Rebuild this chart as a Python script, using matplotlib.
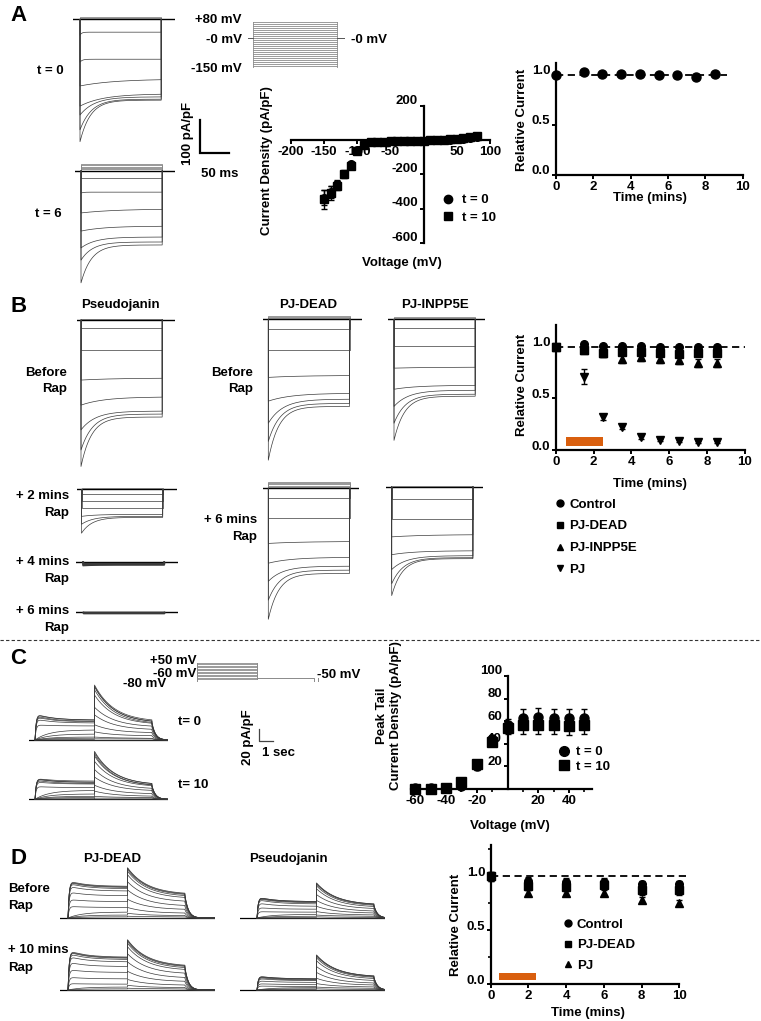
import numpy as np
import matplotlib
matplotlib.use("Agg")
import matplotlib.pyplot as plt
from matplotlib.lines import Line2D
from matplotlib.ticker import MultipleLocator, FixedLocator, FormatStrFormatter
from matplotlib.transforms import ScaledTranslation

plt.rcParams['font.family'] = ['Liberation Sans', 'DejaVu Sans']
plt.rcParams['font.weight'] = 'bold'
plt.rcParams['axes.labelweight'] = 'bold'
plt.rcParams['font.size'] = 9.5
plt.rcParams['axes.unicode_minus'] = False

# ======================= DATA =======================
# ---- Panel A: IV relation ----
A_iv_volt = [-150, -140, -130, -120, -110, -100, -90, -80, -70, -60, -50, -40,
             -30, -20, -10, 0, 10, 20, 30, 40, 50, 60, 70, 80]
A_iv_t0 = [-335, -300, -255, -200, -140, -57, -29, -12, -9, -8, -7, -6,
           -5, -4, -3, -2, -1, 0, 2, 4, 7, 10, 13, 17]
A_iv_t0_err = [45, 35, 25, 20, 15, 10, 5, 3, 2, 2, 2, 2, 2, 2, 2, 2, 2, 2, 2, 2, 3, 3, 3, 4]
A_iv_t10 = [-345, -310, -265, -195, -150, -65, -25, -10, -9, -8, -7, -6,
            -5, -4, -3, -2, 0, 1, 3, 6, 9, 13, 17, 22]
A_iv_t10_err = [55, 40, 28, 22, 18, 10, 5, 3, 2, 2, 2, 2, 2, 2, 2, 2, 2, 2, 2, 3, 3, 3, 4, 4]
# ---- Panel A: relative current ----
A_rel_time = [0, 1.5, 2.5, 3.5, 4.5, 5.5, 6.5, 7.5, 8.5]
A_rel = [1.0, 1.03, 1.01, 1.01, 1.01, 1.0, 1.0, 0.98, 1.01]

# ---- Panel A/B: Kir current sweeps (pA/pF; peak, end-of-pulse) ----
KIR_PULSE_MS = 140
KIR_TAU_MS = [3, 4, 60, 40, 25, 20, 18]
A_t0_peak = [48, 130, 202, 263, 290, 335, 371]
A_t0_end = [39, 121, 181, 226, 235, 242, 245]
A_t0_pos = [2, 4, 6]
A_t6_peak = [22, 68, 128, 183, 234, 271, 340]
A_t6_end = [22, 65, 116, 168, 201, 216, 225]
A_t6_pos = [4, 8, 12, 16, 20]
B_pj_before_peak = [24, 91, 182, 258, 333, 394, 444]
B_pj_before_end = [24, 91, 176, 233, 276, 285, 294]
B_pj_2_peak = [15, 36, 58, 82, 106, 133]
B_pj_2_end = [15, 36, 58, 76, 82, 85]
B_pj_4_peak = [3, 6, 9, 12]
B_pj_4_end = [3, 6, 8, 10]
B_pj_6_peak = [1, 2, 3, 4]
B_pj_6_end = [1, 2, 3, 4]
B_dead_before_peak = [29, 94, 176, 248, 315, 370, 427]
B_dead_before_end = [29, 94, 170, 224, 242, 255, 264]
B_dead_before_pos = [3, 6, 9]
B_dead_6_peak = [30, 91, 167, 227, 282, 339, 397]
B_dead_6_end = [30, 91, 161, 209, 236, 248, 258]
B_dead_6_pos = [4, 8, 12, 16, 20]
B_inp_before_peak = [27, 82, 148, 212, 264, 315, 367]
B_inp_before_end = [27, 82, 145, 200, 215, 227, 233]
B_inp_before_pos = [3, 6]
B_inp_6_peak = [36, 97, 152, 206, 251, 294, 330]
B_inp_6_end = [36, 97, 145, 194, 209, 215, 218]
B_inp_6_pos = [3]

# ---- Panel B: relative current ----
B_time = [0, 1.5, 2.5, 3.5, 4.5, 5.5, 6.5, 7.5, 8.5]
B_control = [1.0, 1.03, 1.01, 1.01, 1.01, 1.0, 1.0, 1.0, 1.0]
B_control_err = [0.01, 0.02, 0.02, 0.02, 0.02, 0.02, 0.02, 0.02, 0.02]
B_dead = [1.0, 0.97, 0.935, 0.95, 0.95, 0.94, 0.93, 0.94, 0.94]
B_dead_err = [0.01, 0.03, 0.03, 0.03, 0.03, 0.03, 0.03, 0.03, 0.03]
B_inpp5e = [1.0, 0.97, 0.94, 0.88, 0.90, 0.88, 0.87, 0.84, 0.84]
B_inpp5e_err = [0.01, 0.03, 0.03, 0.04, 0.04, 0.04, 0.04, 0.04, 0.04]
B_pj = [1.0, 0.71, 0.32, 0.225, 0.13, 0.10, 0.09, 0.08, 0.08]
B_pj_err = [0.01, 0.07, 0.03, 0.02, 0.02, 0.01, 0.01, 0.01, 0.01]
RAP_START, RAP_END = 0.55, 2.5

# ---- Panel C: KCNQ sweeps (pA/pF) ----
KCNQ_STEP_S = 4.25
KCNQ_TAIL_S = 4.1
C_t0_step_peak = [0, 1, 3, 5, 10, 17, 26, 36, 40, 42, 44, 45]
C_t0_step_end = [0, 1, 3, 5, 10, 17, 24, 29, 31, 32, 34, 34]
C_t0_tail_peak = [0, 2, 5, 14, 26, 43, 56, 77, 86, 91, 92, 94]
C_t0_tail_end = [0, 2, 3, 7, 12, 17, 22, 26, 27, 29, 29, 31]
C_t10_step_peak = [0, 1, 3, 5, 9, 15, 22, 30, 33, 35, 36, 36]
C_t10_step_end = [0, 1, 3, 5, 9, 15, 20, 26, 27, 29, 29, 31]
C_t10_tail_peak = [0, 2, 5, 14, 24, 38, 51, 65, 74, 77, 80, 82]
C_t10_tail_end = [0, 2, 3, 5, 9, 14, 17, 21, 22, 22, 24, 24]

# ---- Panel C: tail IV ----
C_iv_volt = [-60, -50, -40, -30, -20, -10, 0, 10, 20, 30, 40, 50]
C_iv_t0 = [0.5, 0.5, 1, 3, 20, 44, 57, 63, 64, 63, 63, 63]
C_iv_t0_err = [1, 1, 1, 1, 3, 4, 5, 8, 8, 8, 8, 8]
C_iv_t10 = [0, 0, 0.5, 6, 22, 42, 54, 57, 57, 57, 56, 57]
C_iv_t10_err = [1, 1, 1, 1, 3, 4, 5, 8, 8, 8, 8, 8]

# ---- Panel D: KCNQ sweeps ----
D_dead_before_step_peak = [0, 2, 5, 10, 20, 32, 45, 55, 60, 62, 63, 64]
D_dead_before_step_end = [0, 2, 5, 10, 18, 28, 38, 46, 50, 52, 53, 54]
D_dead_before_tail_peak = [0, 3, 8, 18, 32, 48, 62, 74, 80, 83, 85, 86]
D_dead_before_tail_end = [0, 2, 4, 8, 14, 20, 27, 33, 36, 38, 39, 40]
D_pj_before_step_peak = [0, 1, 3, 6, 11, 18, 26, 32, 34, 35, 36, 36]
D_pj_before_step_end = [0, 1, 3, 6, 10, 15, 20, 24, 26, 27, 28, 28]
D_pj_before_tail_peak = [0, 2, 5, 11, 20, 30, 40, 50, 55, 58, 59, 60]
D_pj_before_tail_end = [0, 1, 3, 5, 8, 11, 15, 18, 20, 21, 22, 22]
D_dead_10_step_peak = [0, 2, 5, 11, 22, 35, 48, 58, 63, 66, 67, 68]
D_dead_10_step_end = [0, 2, 5, 10, 19, 30, 40, 48, 52, 54, 55, 56]
D_dead_10_tail_peak = [0, 3, 8, 18, 32, 48, 62, 74, 80, 83, 85, 86]
D_dead_10_tail_end = [0, 2, 4, 8, 14, 20, 27, 33, 36, 38, 39, 40]
D_pj_10_step_peak = [0, 1, 2, 4, 7, 11, 16, 20, 22, 23, 24, 24]
D_pj_10_step_end = [0, 1, 2, 4, 6, 9, 13, 16, 17, 18, 19, 19]
D_pj_10_tail_peak = [0, 2, 5, 11, 20, 30, 40, 50, 55, 58, 59, 60]
D_pj_10_tail_end = [0, 1, 3, 5, 8, 11, 15, 18, 20, 21, 22, 22]

# ---- Panel D: relative current ----
D_time = [0, 2, 4, 6, 8, 10]
D_control = [1.0, 0.96, 0.95, 0.95, 0.93, 0.93]
D_control_err = [0.03, 0.03, 0.03, 0.03, 0.03, 0.03]
D_dead = [1.0, 0.91, 0.90, 0.92, 0.87, 0.87]
D_dead_err = [0.04, 0.04, 0.04, 0.04, 0.04, 0.04]
D_pj = [1.0, 0.845, 0.845, 0.845, 0.78, 0.75]
D_pj_err = [0.04, 0.03, 0.03, 0.03, 0.03, 0.03]
D_RAP_START, D_RAP_END = 0.45, 2.4

# protocols
A_protocol_volt = list(range(-150, 81, 10))
C_protocol_volt = list(range(-60, 51, 10))

# ======================= FIGURE =======================
W, H = 761, 1021
fig = plt.figure(figsize=(W / 100, H / 100), dpi=100)

def add_ax(x0, y0, x1, y1):
    ax = fig.add_axes([x0 / W, 1 - y1 / H, (x1 - x0) / W, (y1 - y0) / H])
    ax.patch.set_visible(False)
    return ax

def style_ax(ax, lw=1.6):
    for s in ['top', 'right']:
        ax.spines[s].set_visible(False)
    for s in ['left', 'bottom']:
        ax.spines[s].set_linewidth(lw)
    ax.tick_params(width=1.4, length=3, labelsize=9.5, pad=1.0)
    ax.tick_params(which='minor', width=1.2, length=2.5)

def shift_ylabels(ax, px=5):
    off = ScaledTranslation(0, px / 100, fig.dpi_scale_trans)
    for lab in ax.get_yticklabels():
        lab.set_transform(lab.get_transform() + off)

def legend_at(ax, handles, labels, x, y, **kw):
    opts = dict(loc='upper left', frameon=False, borderpad=0, borderaxespad=0, fontsize=9.5)
    opts.update(kw)
    ax.legend(handles=handles, labels=labels, bbox_to_anchor=(x / W, 1 - y / H),
              bbox_transform=fig.transFigure, **opts)

TRACE_C = '#3a3a3a'
ORANGE = '#D95F0E'

# ---------- Kir sweeps ----------
KIR_MS_PER_PX = 50 / 29.0
KIR_PAPF_PER_PX = 100 / 33.0

def kir_axes(x_start, x_pulse, x_end, y_base, up=12, down=170):
    ax = add_ax(x_start, y_base - up, x_end, y_base + down)
    ax.set_xlim(-(x_pulse - x_start) * KIR_MS_PER_PX, (x_end - x_pulse) * KIR_MS_PER_PX)
    ax.set_ylim(-down * KIR_PAPF_PER_PX, up * KIR_PAPF_PER_PX)
    ax.axis('off')
    return ax

def draw_kir(ax, peaks, ends, pos=(), lw=0.5):
    t_lo, t_hi = ax.get_xlim()
    t = np.linspace(0, KIR_PULSE_MS, 400)
    taus = KIR_TAU_MS[:len(peaks)] if len(peaks) == len(KIR_TAU_MS) else KIR_TAU_MS[-len(peaks):]
    for p in pos:
        ax.plot([0, 0, KIR_PULSE_MS, KIR_PULSE_MS], [0, p, p, 0], color='#888888', lw=0.6)
    ax.plot([t_lo, t_hi], [0, 0], color='k', lw=1.0)
    for pk, en, tau in zip(peaks, ends, taus):
        cur = -(en + (pk - en) * np.exp(-t / tau))
        tt = np.concatenate([[0], t, [KIR_PULSE_MS]])
        ii = np.concatenate([[0], cur, [0]])
        ax.plot(tt, ii, color=TRACE_C, lw=lw)

# Panel A traces
ax = kir_axes(73, 80, 175, 19.3)
draw_kir(ax, A_t0_peak, A_t0_end, A_t0_pos)
ax = kir_axes(75, 81, 175, 170.7)
draw_kir(ax, A_t6_peak, A_t6_end, A_t6_pos)

# Panel B traces
ax = kir_axes(76.7, 81, 175, 320)
draw_kir(ax, B_pj_before_peak, B_pj_before_end, [2, 4])
ax = kir_axes(77, 81.5, 177, 489.3)
draw_kir(ax, B_pj_2_peak, B_pj_2_end, [2, 4])
ax = kir_axes(76, 83, 178, 561.7)
draw_kir(ax, B_pj_4_peak, B_pj_4_end, lw=1.0)
ax = kir_axes(76, 83, 178, 611.7)
draw_kir(ax, B_pj_6_peak, B_pj_6_end, lw=1.0)
ax = kir_axes(263.3, 268.3, 361.7, 319.3)
draw_kir(ax, B_dead_before_peak, B_dead_before_end, B_dead_before_pos)
ax = kir_axes(263.3, 268.3, 359.3, 488.3)
draw_kir(ax, B_dead_6_peak, B_dead_6_end, B_dead_6_pos)
ax = kir_axes(388.3, 394, 485, 319.3)
draw_kir(ax, B_inp_before_peak, B_inp_before_end, B_inp_before_pos)
ax = kir_axes(386, 391.7, 483.3, 486.7)
draw_kir(ax, B_inp_6_peak, B_inp_6_end, B_inp_6_pos)

# Panel A scale bar (100 pA/pF, 50 ms)
ax = add_ax(195, 110, 240, 160)
ax.set_xlim(-5 * KIR_MS_PER_PX, 40 * KIR_MS_PER_PX)
ax.set_ylim(-7 * KIR_PAPF_PER_PX, 43 * KIR_PAPF_PER_PX)
ax.axis('off')
ax.plot([0, 0, 50], [100, 0, 0], color='k', lw=1.6, solid_joinstyle='miter')

# Panel A voltage protocol
ax = add_ax(248, 22, 345, 68)
ax.set_xlim(-5 * KIR_MS_PER_PX, (345 - 253) * KIR_MS_PER_PX)
ax.set_ylim(-150, 80)
ax.axis('off')
for v in A_protocol_volt:
    ax.plot([0, 84 * KIR_MS_PER_PX], [v, v], color='#8a8a8a', lw=0.6)
ax.plot([0, 0], [-150, 80], color='#8a8a8a', lw=0.6)
ax.plot([84 * KIR_MS_PER_PX] * 2, [-150, 80], color='#8a8a8a', lw=0.6)
ax.plot([-5 * KIR_MS_PER_PX, 0], [0, 0], color='#555555', lw=0.7)
ax.plot([84 * KIR_MS_PER_PX, 92 * KIR_MS_PER_PX], [0, 0], color='#555555', lw=0.7)

# ---------- KCNQ sweeps ----------
KCNQ_S_PER_PX = 1 / 14.0
KCNQ_PAPF_PER_PX = 20 / 11.7

def kcnq_axes(x_start, x_step, x_end, y_base, up=65, down=6):
    ax = add_ax(x_start, y_base - up, x_end, y_base + down)
    ax.set_xlim(-(x_step - x_start) * KCNQ_S_PER_PX, (x_end - x_step) * KCNQ_S_PER_PX)
    ax.set_ylim(-down * KCNQ_PAPF_PER_PX, up * KCNQ_PAPF_PER_PX)
    ax.axis('off')
    return ax

def draw_kcnq(ax, step_pk, step_end, tail_pk, tail_end):
    t_lo, t_hi = ax.get_xlim()
    t1 = np.linspace(0, KCNQ_STEP_S, 300)
    t2 = np.linspace(0, KCNQ_TAIL_S, 300)
    t3 = np.linspace(0, t_hi - KCNQ_STEP_S - KCNQ_TAIL_S, 80)
    ax.plot([t_lo, t_hi], [0, 0], color='k', lw=0.9)
    for sp, se, tp, te in zip(step_pk, step_end, tail_pk, tail_end):
        if sp > se:
            i1 = (se + (sp - se) * np.exp(-t1 / 1.2)) * (1 - np.exp(-t1 / 0.08))
        else:
            i1 = se * (1 - np.exp(-t1 / 1.0)) / (1 - np.exp(-KCNQ_STEP_S / 1.0))
        i2 = te + (tp - te) * np.exp(-t2 / 1.4)
        i3 = te * np.exp(-t3 / 0.25)
        tt = np.concatenate([[0], t1, KCNQ_STEP_S + t2, KCNQ_STEP_S + KCNQ_TAIL_S + t3])
        ii = np.concatenate([[0], i1, i2, i3])
        ax.plot(tt, ii, color=TRACE_C, lw=0.5)

ax = kcnq_axes(29.3, 35, 168.3, 740)
draw_kcnq(ax, C_t0_step_peak, C_t0_step_end, C_t0_tail_peak, C_t0_tail_end)
ax = kcnq_axes(29.3, 35, 168.3, 799.3)
draw_kcnq(ax, C_t10_step_peak, C_t10_step_end, C_t10_tail_peak, C_t10_tail_end)

ax = kcnq_axes(60, 68, 215, 918, up=70)
draw_kcnq(ax, D_dead_before_step_peak, D_dead_before_step_end, D_dead_before_tail_peak, D_dead_before_tail_end)
ax = kcnq_axes(240, 257, 385, 918, up=70)
draw_kcnq(ax, D_pj_before_step_peak, D_pj_before_step_end, D_pj_before_tail_peak, D_pj_before_tail_end)
ax = kcnq_axes(60, 68, 215, 990, up=70)
draw_kcnq(ax, D_dead_10_step_peak, D_dead_10_step_end, D_dead_10_tail_peak, D_dead_10_tail_end)
ax = kcnq_axes(240, 257, 385, 990, up=70)
draw_kcnq(ax, D_pj_10_step_peak, D_pj_10_step_end, D_pj_10_tail_peak, D_pj_10_tail_end)

# C scale bar (20 pA/pF, 1 s)
ax = add_ax(255, 725, 280, 745)
ax.set_xlim(-4.3 * KCNQ_S_PER_PX, 20.7 * KCNQ_S_PER_PX)
ax.set_ylim(-4 * KCNQ_PAPF_PER_PX, 16 * KCNQ_PAPF_PER_PX)
ax.axis('off')
ax.plot([0, 0, 1], [20, 0, 0], color='#444444', lw=0.9)

# C voltage protocol
ax = add_ax(171.7, 662.7, 325, 682.3)
ax.set_xlim(-25.6 * KCNQ_S_PER_PX, (325 - 197.3) * KCNQ_S_PER_PX)
ax.set_ylim(-80, 50)
ax.axis('off')
pc = '#8a8a8a'
for v in C_protocol_volt:
    ax.plot([0, KCNQ_STEP_S], [v, v], color=pc, lw=0.6)
ax.plot([-25.6 * KCNQ_S_PER_PX, 0, 0], [-80, -80, 50], color=pc, lw=0.7)
ax.plot([KCNQ_STEP_S, KCNQ_STEP_S], [50, -60], color=pc, lw=0.7)
ax.plot([KCNQ_STEP_S, KCNQ_STEP_S + KCNQ_TAIL_S, KCNQ_STEP_S + KCNQ_TAIL_S,
         KCNQ_STEP_S + KCNQ_TAIL_S + 0.3, KCNQ_STEP_S + KCNQ_TAIL_S + 0.3],
        [-50, -50, -80, -80, -50], color=pc, lw=0.7)

# ---------- Panel A IV ----------
ax = add_ax(291, 106, 490, 243)
style_ax(ax)
ax.set_xlim(-200, 100)
ax.set_ylim(-600, 200)
ax.spines['left'].set_position(('data', 0))
ax.spines['bottom'].set_position(('data', 0))
ax.xaxis.set_major_locator(FixedLocator([-200, -150, -100, -50, 50, 100]))
ax.yaxis.set_major_locator(FixedLocator([200, -200, -400, -600]))
ax.errorbar(A_iv_volt, A_iv_t0, yerr=A_iv_t0_err, fmt='o', color='k', ms=5.5,
            capsize=2.5, elinewidth=1, capthick=1, clip_on=False, zorder=3)
ax.errorbar(A_iv_volt, A_iv_t10, yerr=A_iv_t10_err, fmt='s', color='k', ms=5.5,
            capsize=2.5, elinewidth=1, capthick=1, clip_on=False, zorder=3)
shift_ylabels(ax, 7)
legend_at(ax, [Line2D([], [], ls='', marker='o', color='k', ms=6),
               Line2D([], [], ls='', marker='s', color='k', ms=6)],
          ['t = 0', 't = 10'], 441.5, 194,
          handlelength=1.0, handletextpad=0.55, labelspacing=0.4)

# ---------- Panel A relative current ----------
ax = add_ax(555.7, 63, 742.7, 175)
style_ax(ax)
ax.set_xlim(0, 10)
ax.set_ylim(0, 1.12)
ax.xaxis.set_major_locator(MultipleLocator(2))
ax.yaxis.set_major_locator(FixedLocator([0, 0.5, 1.0]))
ax.yaxis.set_major_formatter(FormatStrFormatter('%.1f'))
ax.plot([0, 9.15], [1.0, 1.0], ls=(0, (4, 2.5)), color='k', lw=1.3)
ax.plot(A_rel_time, A_rel, 'o', color='k', ms=6.5, clip_on=False, zorder=3)
shift_ylabels(ax, 5)

# ---------- Panel B relative current ----------
ax = add_ax(555.7, 325, 745, 450)
style_ax(ax)
ax.set_xlim(0, 10)
ax.set_ylim(0, 1.21)
ax.xaxis.set_major_locator(MultipleLocator(2))
ax.yaxis.set_major_locator(FixedLocator([0, 0.5, 1.0]))
ax.yaxis.set_major_formatter(FormatStrFormatter('%.1f'))
ax.plot([0, 10], [1.0, 1.0], ls=(0, (4, 2.5)), color='k', lw=1.3)
ax.fill_between([RAP_START, RAP_END], 0.04, 0.13, color=ORANGE, lw=0)
ekw = dict(color='k', ms=5.5, capsize=2.5, elinewidth=1, capthick=1, clip_on=False, zorder=3)
ax.errorbar(B_time, B_control, yerr=B_control_err, fmt='o', **ekw)
ax.errorbar(B_time, B_dead, yerr=B_dead_err, fmt='s', **ekw)
ax.errorbar(B_time, B_inpp5e, yerr=B_inpp5e_err, fmt='^', **ekw)
ax.errorbar(B_time, B_pj, yerr=B_pj_err, fmt='v', **ekw)
shift_ylabels(ax, 5)
legend_at(ax, [Line2D([], [], ls='', marker=m, color='k', ms=5) for m in ['o', 's', '^', 'v']],
          ['Control', 'PJ-DEAD', 'PJ-INPP5E', 'PJ'], 554.7, 498.5,
          handlelength=0.8, handletextpad=0.3, labelspacing=0.72)

# ---------- Panel C IV ----------
ax = add_ax(507.5 - 63 * 1.535, 676, 507.5 + 55 * 1.535, 789)
style_ax(ax)
ax.set_xlim(-63, 55)
ax.set_ylim(0, 100)
ax.spines['left'].set_position(('data', 0))
ax.xaxis.set_major_locator(FixedLocator([-60, -40, -20, 20, 40]))
ax.xaxis.set_minor_locator(FixedLocator([-50, -30, -10, 10, 30, 50]))
ax.yaxis.set_major_locator(FixedLocator([20, 40, 60, 80, 100]))
ax.errorbar(C_iv_volt, C_iv_t0, yerr=C_iv_t0_err, fmt='o', color='k', ms=6.5,
            capsize=2.5, elinewidth=1, capthick=1, clip_on=False, zorder=3)
ax.errorbar(C_iv_volt, C_iv_t10, yerr=C_iv_t10_err, fmt='s', color='k', ms=6.5,
            capsize=2.5, elinewidth=1, capthick=1, clip_on=False, zorder=3)
shift_ylabels(ax, 6)
legend_at(ax, [Line2D([], [], ls='', marker='o', color='k', ms=7),
               Line2D([], [], ls='', marker='s', color='k', ms=7)],
          ['t = 0', 't = 10'], 557, 746,
          handlelength=1.0, handletextpad=0.45, labelspacing=0.2)

# ---------- Panel D relative current ----------
ax = add_ax(490.7, 845, 679.3, 984)
style_ax(ax)
ax.set_xlim(0, 10)
ax.set_ylim(0, 1.29)
ax.xaxis.set_major_locator(MultipleLocator(2))
ax.yaxis.set_major_locator(FixedLocator([0, 0.5, 1.0]))
ax.yaxis.set_minor_locator(FixedLocator([0.25, 0.75, 1.25]))
ax.yaxis.set_major_formatter(FormatStrFormatter('%.1f'))
ax.plot([0, 10.4], [1.0, 1.0], ls=(0, (4, 2.5)), color='k', lw=1.3, clip_on=False)
ax.fill_between([D_RAP_START, D_RAP_END], 0.04, 0.105, color=ORANGE, lw=0)
ax.errorbar(D_time, D_control, yerr=D_control_err, fmt='o', **ekw)
ax.errorbar(D_time, D_dead, yerr=D_dead_err, fmt='s', **ekw)
ax.errorbar(D_time, D_pj, yerr=D_pj_err, fmt='^', **ekw)
shift_ylabels(ax, 5)
legend_at(ax, [Line2D([], [], ls='', marker=m, color='k', ms=5) for m in ['o', 's', '^']],
          ['Control', 'PJ-DEAD', 'PJ'], 563, 918.5,
          handlelength=0.8, handletextpad=0.25, labelspacing=0.62)

# ======================= TEXT OVERLAY =======================
ov = fig.add_axes([0, 0, 1, 1])
ov.set_xlim(0, W)
ov.set_ylim(H, 0)
ov.axis('off')
ov.patch.set_visible(False)

def txt(x, y, s, ha='left', va='baseline', **kw):
    ov.text(x, y, s, ha=ha, va=va, fontsize=kw.pop('fontsize', 9.5), fontweight='bold', **kw)

# panel letters
for letter, (x, y) in {'A': (10, 21), 'B': (11, 312), 'C': (10, 664), 'D': (10, 864)}.items():
    txt(x, y, letter, fontsize=16)

# Panel A
txt(241.7, 23.3, '+80 mV', ha='right')
txt(241.7, 42.7, '-0 mV', ha='right')
txt(241.7, 71.7, '-150 mV', ha='right')
txt(351, 43, '-0 mV')
txt(50, 74, 't = 0', ha='center')
txt(48.5, 216.7, 't = 6', ha='center')
txt(188, 133, '100 pA/pF', ha='center', va='center', rotation=90)
txt(220, 176.7, '50 ms', ha='center')
txt(267, 161, 'Current Density (pA/pF)', ha='center', va='center', rotation=90)
txt(402, 266, 'Voltage (mV)', ha='center')
txt(522, 120, 'Relative Current', ha='center', va='center', rotation=90)
txt(650, 201, 'Time (mins)', ha='center')

# Panel B
txt(120, 308.3, 'Pseudojanin', ha='center')
txt(308.3, 308.3, 'PJ-DEAD', ha='center')
txt(435, 308.3, 'PJ-INPP5E', ha='center')
txt(66.7, 375.7, 'Before', ha='right')
txt(66.7, 391.7, 'Rap', ha='right')
txt(69.3, 499.3, '+ 2 mins', ha='right')
txt(69.3, 516, 'Rap', ha='right')
txt(69.3, 565, '+ 4 mins', ha='right')
txt(69.3, 581.7, 'Rap', ha='right')
txt(69.3, 614.3, '+ 6 mins', ha='right')
txt(69.3, 631, 'Rap', ha='right')
txt(253.3, 375.7, 'Before', ha='right')
txt(253.3, 391.7, 'Rap', ha='right')
txt(256.7, 523.3, '+ 6 mins', ha='right')
txt(256.7, 540, 'Rap', ha='right')
txt(522, 385, 'Relative Current', ha='center', va='center', rotation=90)
txt(650, 487, 'Time (mins)', ha='center')

# separator
ov.plot([0, W], [640, 640], ls=(0, (3, 2)), color='#333333', lw=0.8)

# Panel C
txt(196.7, 664, '+50 mV', ha='right')
txt(196.7, 676.7, '-60 mV', ha='right')
txt(166.7, 687.3, '-80 mV', ha='right')
txt(316.7, 678.3, '-50 mV')
txt(178.3, 725, 't= 0')
txt(178.3, 788.3, 't= 10')
txt(248.3, 736.7, '20 pA/pF', ha='center', va='center', rotation=90)
txt(261.7, 756, '1 sec')
ov.text(389, 716, 'Peak Tail\nCurrent Density (pA/pF)', ha='center', va='center',
        rotation=90, fontsize=9.5, fontweight='bold', multialignment='center', linespacing=1.3)
txt(510, 829, 'Voltage (mV)', ha='center')

# Panel D
txt(112, 862, 'PJ-DEAD', ha='center')
txt(288, 862, 'Pseudojanin', ha='center')
txt(8, 892, 'Before')
txt(8, 909, 'Rap')
txt(8, 953, '+ 10 mins')
txt(8, 971, 'Rap')
txt(456, 925, 'Relative Current', ha='center', va='center', rotation=90)
txt(588, 1016, 'Time (mins)', ha='center')

fig.savefig('out.png', dpi=100)
